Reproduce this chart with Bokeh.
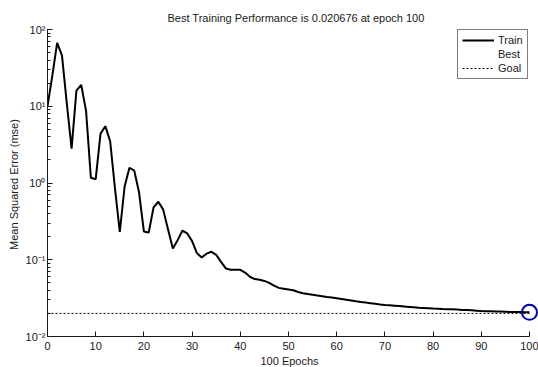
from bokeh.plotting import figure
from bokeh.models import Range1d, Legend, LegendItem, Title, FixedTicker, CustomJSTickFormatter
from bokeh.embed import file_html
from bokeh.resources import INLINE

# ---- data ----
epochs = list(range(101))
train_mse = [
    10, 25, 67, 46, 11, 2.8, 16, 19, 8.7, 1.17,
    1.12, 4.4, 5.5, 3.5, 0.85, 0.23, 0.9, 1.58, 1.45, 0.75,
    0.234, 0.226, 0.48, 0.57, 0.45, 0.25, 0.14, 0.18, 0.24, 0.22,
    0.175, 0.122, 0.107, 0.12, 0.127, 0.116, 0.094, 0.077, 0.074, 0.074,
    0.074, 0.068, 0.060, 0.056, 0.055, 0.053, 0.050, 0.046, 0.043, 0.042,
    0.041, 0.040, 0.038, 0.0367, 0.0358, 0.0350, 0.0342, 0.0335, 0.0328, 0.0322,
    0.0316, 0.0309, 0.0302, 0.0295, 0.0288, 0.0282, 0.0277, 0.0272, 0.0267, 0.0262,
    0.0258, 0.0255, 0.0252, 0.0249, 0.0246, 0.0243, 0.0240, 0.0237, 0.0235, 0.0233,
    0.0231, 0.0230, 0.0228, 0.0227, 0.0226, 0.0224, 0.0222, 0.0221, 0.0219, 0.0217,
    0.0215, 0.0214, 0.0213, 0.0212, 0.0211, 0.0210, 0.0209, 0.0208, 0.0208, 0.0207,
    0.020676,
]
goal_mse = 0.02
best_epoch = 100
best_mse = 0.020676
x_ticks = [0, 10, 20, 30, 40, 50, 60, 70, 80, 90, 100]
y_ticks = [0.01, 0.1, 1, 10, 100]
y_tick_labels = ["10\u207b\u00b2", "10\u207b\u00b9", "10\u2070", "10\u00b9", "10\u00b2"]
title_text = "Best Training Performance is 0.020676 at epoch 100"
x_label = "100 Epochs"
y_label = "Mean Squared Error  (mse)"
legend_labels = ["Train", "Best", "Goal"]

FONT = "Liberation Sans"
INK = "#1a1a1a"

p = figure(width=538, height=367, output_backend="svg", toolbar_location=None,
           y_axis_type="log",
           x_range=Range1d(0, 101.87), y_range=Range1d(0.01, 100),
           min_border_left=47, min_border_right=0, min_border_top=29, min_border_bottom=31)
p.outline_line_color = None
p.grid.visible = False
p.background_fill_color = "white"
p.border_fill_color = "white"

# title (above) and x label (below) as Title objects placed by offset
p.title = Title(text=title_text, align="left", offset=120, standoff=12,
                text_font=FONT, text_font_size="11px", text_font_style="normal",
                text_color=INK)
p.add_layout(Title(text=x_label, align="left", offset=213, standoff=0,
                   text_font=FONT, text_font_size="11px", text_font_style="normal",
                   text_color=INK), "below")

# axes
xa = p.xaxis[0]
xa.bounds = (x_ticks[0], x_ticks[-1])
xa.ticker = FixedTicker(ticks=x_ticks)
xa.major_tick_in = 5
xa.major_tick_out = 0
xa.minor_tick_line_color = None
xa.axis_line_color = INK
xa.major_tick_line_color = INK
xa.major_label_text_font = FONT
xa.major_label_text_font_size = "11px"
xa.major_label_text_color = INK
xa.major_label_standoff = 5

ya = p.yaxis[0]
ya.major_tick_in = 5
ya.major_tick_out = 0
ya.minor_tick_in = 3
ya.minor_tick_out = 0
ya.axis_line_color = INK
ya.major_tick_line_color = INK
ya.minor_tick_line_color = INK
ya.major_label_text_font = FONT
ya.major_label_text_font_size = "11px"
ya.major_label_text_color = INK
ya.major_label_standoff = 2
ya.formatter = CustomJSTickFormatter(args=dict(vals=y_ticks, labs=y_tick_labels), code="""
let best = 0, bd = 1e9;
for (let i = 0; i < vals.length; i++) {
  const d = Math.abs(Math.log10(tick) - Math.log10(vals[i]));
  if (d < bd) { bd = d; best = i; }
}
return labs[best];
""")
ya.axis_label = y_label
ya.axis_label_text_font = FONT
ya.axis_label_text_font_size = "11px"
ya.axis_label_text_font_style = "normal"
ya.axis_label_text_color = INK
ya.axis_label_standoff = 3

# data renderers
train_r = p.line(epochs, train_mse, line_color="black", line_width=2)
goal_r = p.line([epochs[0], epochs[-1]], [goal_mse, goal_mse], line_color="black",
                line_width=1, line_dash="2 2")
best_leg = p.line([best_epoch, best_epoch], [best_mse, best_mse], line_alpha=0)
p.scatter([best_epoch], [best_mse], size=15, marker="circle", fill_color=None,
          line_color="#0000b4", line_width=2)

legend = Legend(items=[
    LegendItem(label=legend_labels[0], renderers=[train_r]),
    LegendItem(label=legend_labels[1], renderers=[best_leg]),
    LegendItem(label=legend_labels[2], renderers=[goal_r]),
], location=(410, 257))
legend.label_text_font = FONT
legend.label_text_font_size = "11px"
legend.label_text_color = INK
legend.label_height = 12
legend.glyph_height = 12
legend.glyph_width = 32
legend.label_standoff = 4
legend.spacing = 2
legend.padding = 4
legend.margin = 0
legend.border_line_color = "black"
legend.border_line_width = 1
legend.background_fill_color = "white"
p.add_layout(legend)

open("out.html", "w").write(file_html(p, INLINE))
